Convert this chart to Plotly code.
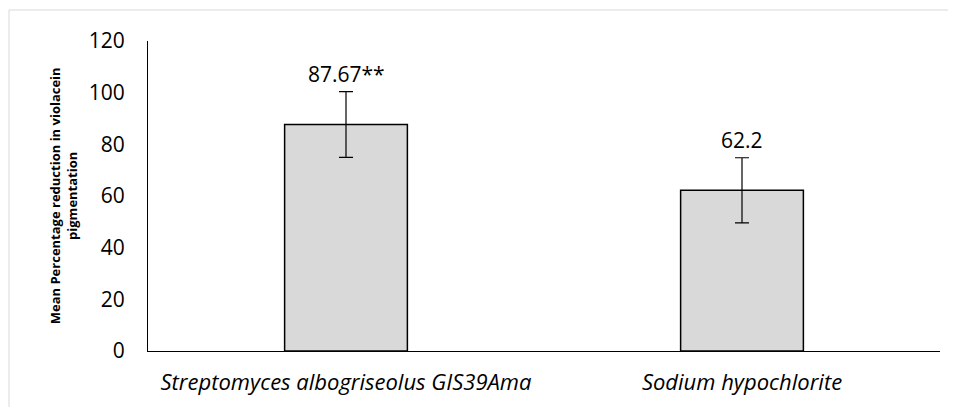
import plotly.graph_objects as go

categories = ["Streptomyces albogriseolus GIS39Ama", "Sodium hypochlorite"]
values = [87.67, 62.2]
errors = [12.7, 12.6]
labels = ["87.67**", "62.2"]
y_title = "Mean Percentage reduction in violacein<br>pigmentation"

font = "Open Sans, Calibri, Carlito, sans-serif"

fig = go.Figure()
fig.add_trace(go.Bar(
    x=categories, y=values,
    marker=dict(color="#d9d9d9", line=dict(color="#000000", width=1.5)),
    error_y=dict(type="data", array=errors, visible=True, color="#000000", thickness=1.2, width=7),
    width=0.31,
))

for c, v, e, t in zip(categories, values, errors, labels):
    fig.add_annotation(x=c, y=v + e, text=t, showarrow=False, yanchor="bottom", yshift=2,
                       font=dict(family=font, size=21, color="#000000"))

fig.add_annotation(xref="paper", yref="paper", x=-0.107, y=0.5, text="<b>" + y_title + "</b>",
                   textangle=-90, showarrow=False, xanchor="center", yanchor="middle",
                   font=dict(family=font, size=13, color="#000000"))

fig.add_shape(type="rect", xref="paper", yref="paper", x0=-0.1755, x1=1.05, y0=-0.3, y1=1.1,
              line=dict(color="#d9d9d9", width=1), fillcolor="rgba(0,0,0,0)", layer="below")

fig.update_layout(
    width=956, height=407,
    margin=dict(l=140, r=24, t=33, b=64),
    paper_bgcolor="white", plot_bgcolor="white",
    showlegend=False,
    font=dict(family=font, color="#000000"),
    xaxis=dict(showline=True, linecolor="#000000", linewidth=1, ticks="", automargin=False,
               tickfont=dict(size=22, family=font), showgrid=False, ticklabelstandoff=12),
    yaxis=dict(range=[0, 120], dtick=20, showline=True, linecolor="#000000", linewidth=1,
               showgrid=False, ticks="", zeroline=False, automargin=False,
               tickfont=dict(size=21, family=font), ticklabelstandoff=18),
)
fig.update_xaxes(tickvals=categories, ticktext=["<i>" + c + "</i>" for c in categories])

fig.write_html("out.html")
